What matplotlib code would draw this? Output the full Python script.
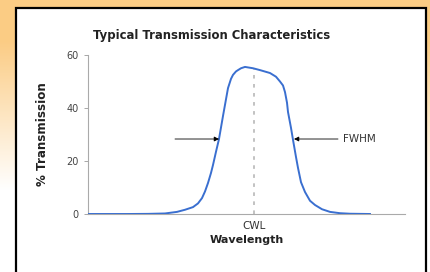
import numpy as np
import matplotlib.pyplot as plt
from matplotlib.patches import Rectangle

# transmission curve (wavelength in arbitrary units)
wavelength = [0, 40, 60, 77, 89, 97, 105, 110, 114, 117, 120, 123, 125, 128, 131, 135,
              140, 143, 145, 148, 150, 153, 157, 165, 172, 182, 188, 192, 195, 197, 199,
              200, 203, 205, 208, 210, 213, 217, 222, 227, 234, 242, 252, 262, 282]
transmission = [0, 0, 0.05, 0.2, 0.8, 1.6, 2.6, 4, 6, 8.5, 11.7, 15.5, 18.5, 23.5, 28.3, 37,
                47.5, 51, 52.5, 53.8, 54.3, 55, 55.5, 55, 54.3, 53.2, 51.8, 50, 48.5, 46, 42,
                38.5, 32.5, 28, 21.5, 17.4, 12, 8.3, 5, 3.4, 1.8, 0.8, 0.3, 0.1, 0]
cwl = 166
fwhm_level = 28.3
fwhm_left = 131
fwhm_right = 206
yticks = [0, 20, 40, 60]

fig = plt.figure(figsize=(4.3, 2.72), dpi=100)

# orange gradient background
bg = fig.add_axes([0, 0, 1, 1])
grad = np.linspace(0, 1, 272)[:, None]
top = np.array([0.985, 0.80, 0.52])
col = top + (np.array([1, 1, 1]) - top) * np.clip((grad - 0.15) / 0.55, 0, 1)[..., None]
col = np.repeat(col, 2, axis=1)
bg.imshow(col, aspect='auto', extent=[0, 1, 0, 1], origin='upper')
bg.add_patch(Rectangle((16 / 430, -0.1), (426 - 16) / 430, (264 + 27) / 272,
                       facecolor='white', edgecolor='black', lw=1.6,
                       transform=bg.transAxes))
bg.set_xlim(0, 1)
bg.set_ylim(0, 1)
bg.axis('off')

ax = fig.add_axes([88 / 430, 1 - 214 / 272, (405 - 88) / 430, (214 - 55) / 272])
ax.patch.set_alpha(0)
ax.plot(wavelength, transmission, color='#3a6fd0', lw=1.4, zorder=3,
        solid_joinstyle='round')
ax.plot([cwl, cwl], [0, 54.9], color='#bdbdbd', lw=1.3, ls=(0, (2, 3)), zorder=2)

# FWHM arrows
ax.annotate('', xy=(fwhm_left, fwhm_level), xytext=(87, fwhm_level),
            arrowprops=dict(arrowstyle='-|>', color='black', lw=0.6,
                            mutation_scale=7, shrinkA=0, shrinkB=0))
ax.annotate('', xy=(fwhm_right, fwhm_level), xytext=(250, fwhm_level),
            arrowprops=dict(arrowstyle='-|>', color='black', lw=0.6,
                            mutation_scale=7, shrinkA=0, shrinkB=0))
ax.text(255, fwhm_level, 'FWHM', fontsize=7.5, color='#333333', va='center', ha='left')

ax.set_xlim(0, 317)
ax.set_ylim(0, 60)
ax.set_yticks(yticks)
ax.set_xticks([cwl])
ax.set_xticklabels(['CWL'], fontsize=7.5, color='#333333')
ax.tick_params(axis='y', labelsize=7, colors='#444444', length=3, width=0.6, color='#999999')
ax.tick_params(axis='x', length=0, pad=5)
for s in ['top', 'right']:
    ax.spines[s].set_visible(False)
ax.spines['left'].set_color('#aaaaaa')
ax.spines['bottom'].set_color('#aaaaaa')
ax.spines['left'].set_linewidth(0.8)
ax.spines['bottom'].set_linewidth(0.8)
ax.set_xlabel('Wavelength', fontsize=8, fontweight='bold', color='#222222', labelpad=3)
ax.set_ylabel('% Transmission', fontsize=8.6, fontweight='bold', color='#222222', labelpad=13)

fig.text(93 / 430, 1 - 35 / 272, 'Typical Transmission Characteristics',
         fontsize=8.4, fontweight='bold', color='#222222', va='center', ha='left')

fig.savefig('out.png', dpi=100)
